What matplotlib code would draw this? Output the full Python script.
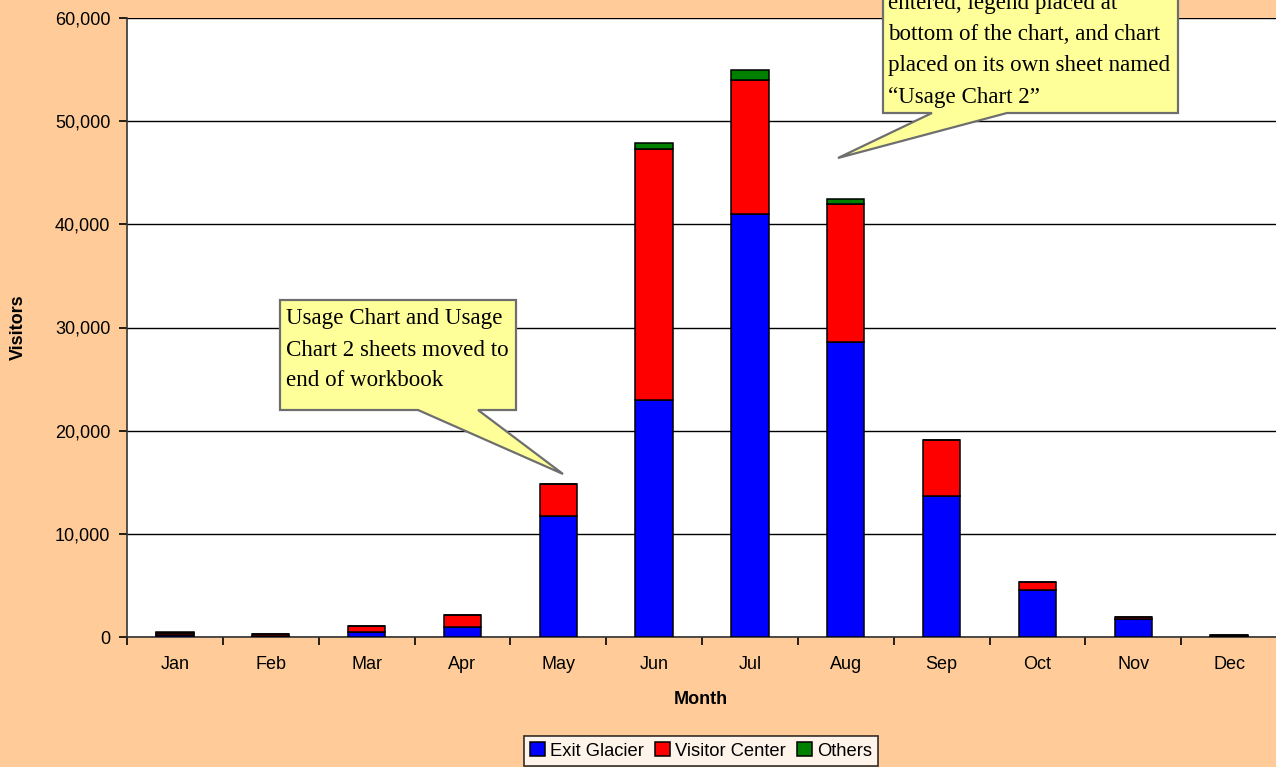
import matplotlib
matplotlib.use("Agg")
import matplotlib.pyplot as plt
from matplotlib.patches import Polygon
import numpy as np

months = ["Jan", "Feb", "Mar", "Apr", "May", "Jun", "Jul", "Aug", "Sep", "Oct", "Nov", "Dec"]
exit_glacier = [200, 120, 500, 1000, 11700, 23000, 41000, 28600, 13700, 4600, 1700, 100]
visitor_center = [200, 150, 550, 1100, 3100, 24300, 13000, 13400, 5400, 700, 200, 100]
others = [80, 60, 50, 30, 20, 600, 1000, 500, 20, 30, 50, 20]
yticks = [0, 10000, 20000, 30000, 40000, 50000, 60000]

W, H = 1276, 767
fig = plt.figure(figsize=(W / 100, H / 100), dpi=100, facecolor="#FFCC99")
ax = fig.add_axes([127 / W, 1 - 637 / H, (1277 - 127) / W, (637 - 18) / H])
ax.set_facecolor("white")

x = np.arange(len(months))
bw = 0.39
eg = np.array(exit_glacier)
vc = np.array(visitor_center)
ot = np.array(others)
ax.bar(x, eg, bw, color="#0000FF", edgecolor="black", linewidth=1.1, label="Exit Glacier", zorder=3)
ax.bar(x, vc, bw, bottom=eg, color="#FF0000", edgecolor="black", linewidth=1.1, label="Visitor Center", zorder=3)
ax.bar(x, ot, bw, bottom=eg + vc, color="#008000", edgecolor="black", linewidth=1.1, label="Others", zorder=3)

ax.set_xlim(-0.5, len(months) - 0.5)
ax.set_ylim(0, 60000)
ax.set_yticks(yticks)
ax.set_yticklabels([f"{v:,}" for v in yticks], fontsize=13, family="Liberation Sans")
ax.set_xticks(x)
ax.set_xticklabels(months, fontsize=13, family="Liberation Sans")
ax.set_xticks(np.arange(-0.5, len(months)), minor=True)
ax.tick_params(axis="x", which="major", length=0, pad=14)
ax.tick_params(axis="x", which="minor", length=6, width=1.2, direction="out")
ax.tick_params(axis="y", length=6, width=1.2, direction="out", pad=6)
ax.yaxis.grid(True, color="black", linewidth=1.0, zorder=0)
ax.set_axisbelow(True)
for s in ["top", "right"]:
    ax.spines[s].set_visible(False)
for s in ["left", "bottom"]:
    ax.spines[s].set_linewidth(1.2)
    ax.spines[s].set_color("#333333")

fig.text(701 / W, 1 - 700 / H, "Month", ha="center", va="center", fontsize=13,
         fontweight="bold", family="Liberation Sans")
fig.text(18 / W, 1 - 327 / H, "Visitors", ha="center", va="center", rotation=90,
         fontsize=13, fontweight="bold", family="Liberation Sans")

leg = fig.legend(loc="center", bbox_to_anchor=(701 / W, 1 - 751 / H), ncol=3, frameon=True,
                 fancybox=False, edgecolor="black", handlelength=0.8,
                 handleheight=0.8, handletextpad=0.3, columnspacing=0.6, borderpad=0.35,
                 prop={"family": "Liberation Sans", "size": 13.2})
leg.get_frame().set_linewidth(1.2)


def px(pt):
    return (pt[0] / W, 1 - pt[1] / H)


def callout(box, base, tip, lines, x0, ys):
    l, t, r, b = box
    pts = [(l, t), (r, t), (r, b), (base[1], b), tip, (base[0], b), (l, b)]
    poly = Polygon([px(p) for p in pts], closed=True, transform=fig.transFigure,
                   facecolor="#FFFF99", edgecolor="#6E6E6E", linewidth=1.6, zorder=10)
    fig.add_artist(poly)
    for line, y in zip(lines, ys):
        fig.text(x0 / W, 1 - y / H, line, ha="left", va="center", fontsize=16.6,
                 family="Liberation Serif", zorder=11)


callout((280, 300, 516, 410), (418, 478), (563, 474),
        ["Usage Chart and Usage", "Chart 2 sheets moved to", "end of workbook"],
        286, [318, 350, 381])
callout((883, -40, 1178, 113), (932, 1007), (838, 158),
        ["entered, legend placed at", "bottom of the chart, and chart",
         "placed on its own sheet named", "\u201cUsage Chart 2\u201d"],
        888, [4, 35, 66, 97])

fig.savefig("out.png", dpi=100, facecolor=fig.get_facecolor())
